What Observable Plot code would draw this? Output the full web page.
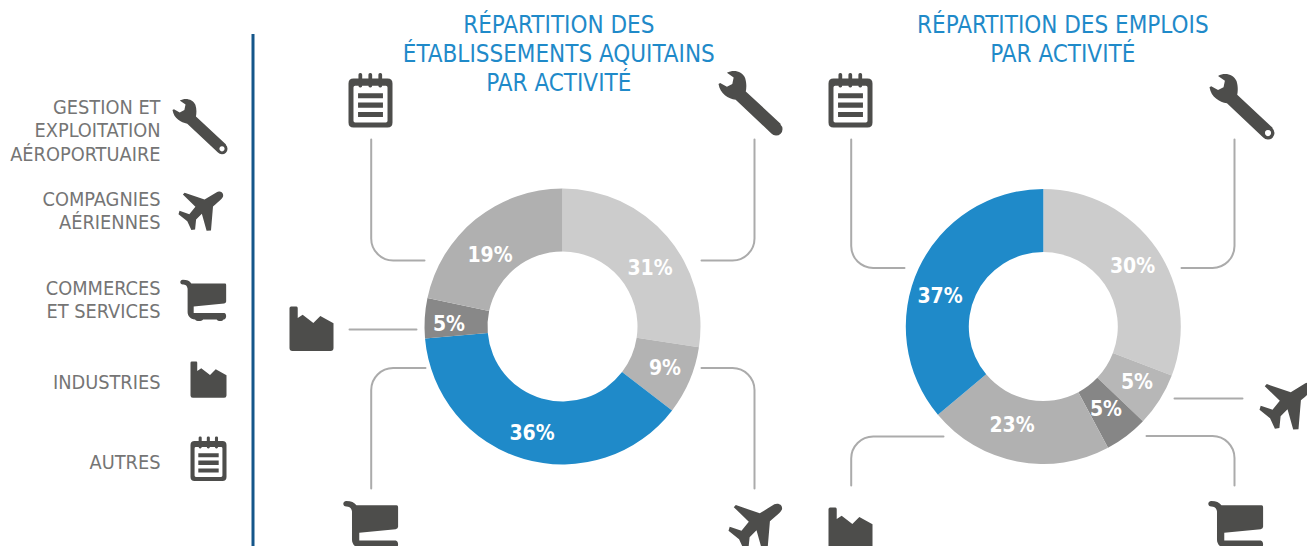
<!DOCTYPE html>
<html lang="fr">
<head>
<meta charset="utf-8">
<script src="https://cdn.jsdelivr.net/npm/d3@7"></script>
<script src="https://cdn.jsdelivr.net/npm/@observablehq/plot@0.6"></script>
<style>html,body{margin:0;padding:0;background:#fff;overflow:hidden}</style>
</head>
<body>
<script>
// ---- Data ----
const activities = ["Gestion", "Compagnies", "Commerces", "Industries", "Autres"];
// Donut 1 (order clockwise from 12 o'clock)
const etabShares = [27.4, 8.0, 38.2, 4.7, 21.7];
const etabLabels = ["31%", "9%", "36%", "5%", "19%"];
const etabColors = ["#cccccc", "#b3b3b3", "#1f8ac9", "#888888", "#b0b0b0"];
// Donut 2
const emplShares = [30.8, 6.3, 5.1, 21.7, 36.1];
const emplLabels = ["30%", "5%", "5%", "23%", "37%"];
const emplColors = ["#cccccc", "#b7b7b7", "#868686", "#b1b1b1", "#1f8ac9"];

const titleEtab = ["RÉPARTITION DES", "ÉTABLISSEMENTS AQUITAINS", "PAR ACTIVITÉ"];
const titleEmpl = ["RÉPARTITION DES EMPLOIS", "PAR ACTIVITÉ"];
const legendLines = [
  ["GESTION ET", "EXPLOITATION", "AÉROPORTUAIRE"],
  ["COMPAGNIES", "AÉRIENNES"],
  ["COMMERCES", "ET SERVICES"],
  ["INDUSTRIES"],
  ["AUTRES"]
];

// ---- Layout (separate from the values) ----
const W = 1307, H = 546;
const FONT = "'DejaVu Sans Condensed', 'DejaVu Sans', sans-serif";
const donuts = [
  {cx: 562, cy: 326, R: 138, r: 75, shares: etabShares, labels: etabLabels, colors: etabColors,
   at: [[649.5,267.5],[664.5,367.5],[531.5,433],[448.5,323.5],[489.5,254.5]]},
  {cx: 1042.8, cy: 326, R: 137.5, r: 74.5, shares: emplShares, labels: emplLabels, colors: emplColors,
   at: [[1132,266],[1136.5,382],[1105.5,408.5],[1011.5,425],[939.5,295.5]]}
];
const titleY = [25, 53.5, 82.5];
const legendY = [[107,130.5,154],[199,222.5],[288,311.5],[382],[462]];
const connectors = [
  [[370.7,139],[370.7,260],[424,260]],
  [[754,139],[754,260],[701,260]],
  [[349,329],[416,329]],
  [[370.7,488],[370.7,367.5],[425,367.5]],
  [[754,488],[754,367.5],[701,367.5]],
  [[850.7,139],[850.7,267.5],[904,267.5]],
  [[1234,139],[1234,267.5],[1181,267.5]],
  [[1174,398],[1242,398]],
  [[1146,435.5],[1234,435.5],[1234,485]],
  [[943,436],[850.7,436],[850.7,485]]
];

// ---- Icon outlines (pictogram units, not data) ----
const rr = (x, y, w, h, q, ccw) => ccw
  ? [["M",x+q,y],["Q",x,y,x,y+q],["L",x,y+h-q],["Q",x,y+h,x+q,y+h],["L",x+w-q,y+h],["Q",x+w,y+h,x+w,y+h-q],["L",x+w,y+q],["Q",x+w,y,x+w-q,y],["Z"]]
  : [["M",x+q,y],["L",x+w-q,y],["Q",x+w,y,x+w,y+q],["L",x+w,y+h-q],["Q",x+w,y+h,x+w-q,y+h],["L",x+q,y+h],["Q",x,y+h,x,y+h-q],["L",x,y+q],["Q",x,y,x+q,y],["Z"]];
const glyphs = {
  wrench: {box: [55,30,245,225], ops: [
    ["M",80,37],["C",100,26,125,32,134,52],["C",139,68,138,82,136,92],["L",240,189],
    ["A",226,204,19,-0.82,2.4,false],["L",106,117],["C",84,113,60,100,55,70],["L",60,67],
    ["L",80,78],["L",96,70],["L",100,51],["Z"],
    ["M",235,204],["A",226,204,9,0,-6.283,true],["Z"]]},
  plane: {box: [535,513,668,630], ops: [
    ["M",548,522],["L",553,517],["L",612,537],["L",648,515],["C",655,511,668,514,667,526],
    ["C",666,532,660,537,637,557],["L",631,628],["L",618,629],["L",604,579],["L",587,596],
    ["L",584,625],["L",573,627],["L",561,601],["L",535,580],["L",538,570],["L",567,580],
    ["L",585,558],["Z"]]},
  cart: {box: [541,28,677,152], ops: [
    ["M",548,29],["C",560,29,568,32,573,40],["L",672,40],["C",675,40,676,42,676,45],["L",676,93],
    ["Q",676,98,670,99],["L",580,108],["L",580,127],["L",670,127],["C",678,128,678,145,670,146],
    ["L",668,146],["C",665,152,652,152,648,146],["L",608,146],["C",602,153,588,152,584,146],
    ["C",570,146,562,135,562,125],["L",562,55],["C",560,45,555,43,548,43],["C",538,43,538,29,548,29],["Z"]]},
  factory: {box: [570,272,677,380], ops: [
    ["M",570,276],["Q",570,272,574,272],["L",587,272],["Q",590,272,590,276],["L",590,300],["L",602,292],
    ["L",628,312],["L",645,295],["L",677,313],["L",677,373],["Q",677,380,670,380],["L",577,380],
    ["Q",570,380,570,373],["Z"]]},
  notepad: {box: [571,497,677,628], ops: [
    ...rr(571,510,106,118,12,false),
    ...rr(583,528,82,88,4,true),
    ...rr(595,497,9,35,4,false),
    ...rr(619,497,9,35,4,false),
    ...rr(643,497,9,35,4,false),
    ...rr(594,546,60,12,0,false),
    ...rr(594,568,60,13,0,false),
    ...rr(594,591,60,12,0,false)]}
};
// left, top, width of the pictogram in the picture
const placements = [
  {icon:"wrench", x:172, y:98, w:55}, {icon:"plane", x:178, y:191, w:45},
  {icon:"cart", x:180, y:279, w:46}, {icon:"factory", x:190, y:361, w:36},
  {icon:"notepad", x:190, y:436, w:36},
  {icon:"notepad", x:348, y:72.5, w:44}, {icon:"wrench", x:718, y:70, w:64},
  {icon:"factory", x:289, y:306, w:44}, {icon:"cart", x:343, y:500, w:55},
  {icon:"plane", x:728, y:503, w:54},
  {icon:"notepad", x:828, y:72.5, w:44}, {icon:"wrench", x:1209, y:73, w:65},
  {icon:"plane", x:1259, y:382, w:54}, {icon:"cart", x:1208, y:500, w:55},
  {icon:"factory", x:828, y:507, w:44}
];

function drawGlyph(name) {
  const {box: [x0, y0, x1], ops} = glyphs[name];
  return {
    draw(ctx, l) {
      const k = l / (x1 - x0), X = (v) => (v - x0) * k, Y = (v) => (v - y0) * k;
      for (const [op, ...a] of ops) {
        if (op === "M") ctx.moveTo(X(a[0]), Y(a[1]));
        else if (op === "L") ctx.lineTo(X(a[0]), Y(a[1]));
        else if (op === "Q") ctx.quadraticCurveTo(X(a[0]), Y(a[1]), X(a[2]), Y(a[3]));
        else if (op === "C") ctx.bezierCurveTo(X(a[0]), Y(a[1]), X(a[2]), Y(a[3]), X(a[4]), Y(a[5]));
        else if (op === "A") ctx.arc(X(a[0]), Y(a[1]), a[2] * k, a[3], a[4], a[5]);
        else ctx.closePath();
      }
    }
  };
}

// Wedge of a donut: the vector's rotation is the start angle, its length the share.
const wedge = (R, r) => ({
  draw(ctx, l) {
    d3.arc().context(ctx)({innerRadius: r, outerRadius: R, startAngle: 0, endAngle: l / 100 * 2 * Math.PI});
  }
});

// Line curve with rounded elbows.
function roundedElbow(context) {
  const pts = [];
  return {
    lineStart() { pts.length = 0; },
    point(x, y) { pts.push([+x, +y]); },
    lineEnd() {
      context.moveTo(...pts[0]);
      for (let i = 1; i < pts.length - 1; i++) context.arcTo(...pts[i], ...pts[i + 1], 22);
      context.lineTo(...pts[pts.length - 1]);
    },
    areaStart() {}, areaEnd() {}
  };
}

const marks = [];

// Vertical rule of the legend
marks.push(Plot.ruleX([252.5], {y1: 34, y2: H, stroke: "#15568a", strokeWidth: 3}));

// Connectors
connectors.forEach((c) => marks.push(Plot.line(c, {
  x: (d) => d[0], y: (d) => d[1], curve: roundedElbow, stroke: "#ababab", strokeWidth: 2
})));

// Donuts
donuts.forEach((d) => {
  let acc = 0;
  const rows = d.shares.map((v, i) => {
    const row = {share: v, start: acc * 3.6, color: d.colors[i], label: d.labels[i], lx: d.at[i][0], ly: d.at[i][1]};
    acc += v;
    return row;
  });
  marks.push(Plot.vector(rows, {
    x: () => d.cx, y: () => d.cy, rotate: "start", length: "share", anchor: "start",
    shape: wedge(d.R, d.r), fill: "color", stroke: "none"
  }));
  marks.push(Plot.text(rows, {
    x: "lx", y: "ly", text: "label", fill: "white", fontWeight: "bold", fontSize: 21,
    fontFamily: FONT, textAnchor: "middle", lineAnchor: "middle"
  }));
});

// Titles
const titleRows = [
  ...titleEtab.map((t, i) => ({t, x: 558.3, y: titleY[i]})),
  ...titleEmpl.map((t, i) => ({t, x: 1062.3, y: titleY[i]}))
];
marks.push(Plot.text(titleRows, {
  x: "x", y: "y", text: "t", fill: "#1f8ac9", fontSize: 24, fontFamily: FONT,
  textAnchor: "middle", lineAnchor: "middle"
}));

// Legend labels
const legendRows = legendLines.flatMap((ls, i) => ls.map((t, j) => ({t, y: legendY[i][j]})));
marks.push(Plot.text(legendRows, {
  x: () => 160, y: "y", text: "t", fill: "#757575", fontSize: 19.8, fontFamily: FONT,
  textAnchor: "end", lineAnchor: "middle"
}));

// Pictograms
Object.keys(glyphs).forEach((name) => {
  marks.push(Plot.vector(placements.filter((p) => p.icon === name), {
    x: "x", y: "y", length: "w", rotate: 0, anchor: "start",
    shape: drawGlyph(name), fill: "#4d4d4b", stroke: "none"
  }));
});

const chart = Plot.plot({
  width: W, height: H,
  marginTop: 0, marginRight: 0, marginBottom: 0, marginLeft: 0,
  x: {domain: [0, W], range: [0, W], axis: null},
  y: {domain: [0, H], range: [0, H], axis: null},
  length: {type: "identity"},
  color: {type: "identity"},
  style: {background: "#fff", display: "block"},
  marks
});
document.body.appendChild(chart);
</script>
</body>
</html>
